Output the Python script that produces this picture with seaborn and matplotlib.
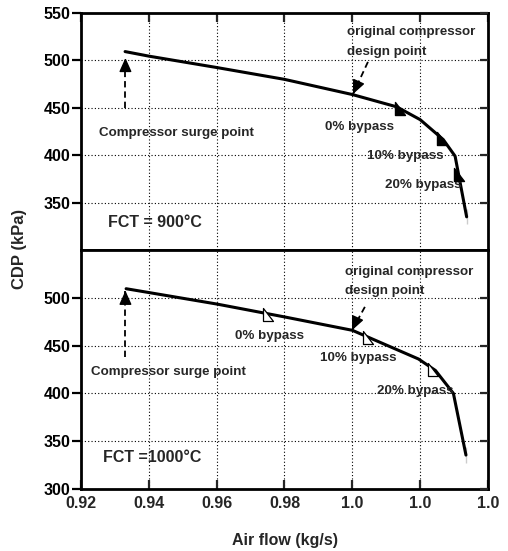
import numpy as np
import pandas as pd
import matplotlib
matplotlib.use("Agg")
import matplotlib.pyplot as plt
from matplotlib.path import Path
import seaborn as sns

sns.set_style("white")
plt.rcParams["font.family"] = ["Liberation Sans", "DejaVu Sans"]
plt.rcParams["font.weight"] = "bold"

# Operating line, FCT = 900 C
air_900 = [0.9330, 0.940, 0.960, 0.980, 1.000, 1.0131, 1.0200, 1.0268, 1.0303, 1.0337, 1.0337]
cdp_900 = [509.3, 504.5, 492.5, 480.0, 464.0, 451.0, 437.5, 416.5, 399.0, 343.0, 327.0]
# Bypass points on the 900 C line (0 %, 10 %, 20 %)
bypass_air_900 = [1.0141, 1.0264, 1.0315]
bypass_cdp_900 = [449.5, 418.0, 380.0]

# Operating line, FCT = 1000 C
air_1000 = [0.9333, 0.940, 0.960, 0.980, 1.000, 1.0195, 1.0245, 1.0298, 1.0335, 1.0335]
cdp_1000 = [509.5, 505.5, 493.5, 480.0, 466.0, 436.0, 424.0, 400.0, 344.0, 327.0]
bypass_air_1000 = [0.9751, 1.0046, 1.0238]
bypass_cdp_1000 = [483.3, 458.6, 425.7]

bypass_labels = ["0% bypass", "10% bypass", "20% bypass"]

x_ticks = [0.92, 0.94, 0.96, 0.98, 1.00, 1.02, 1.04]
x_tick_labels = ["0.92", "0.94", "0.96", "0.98", "1.0", "1.0", "1.0"]
y_ticks_top = [350, 400, 450, 500, 550]
y_ticks_bottom = [300, 350, 400, 450, 500]

W, H = 508, 551
fig = plt.figure(figsize=(W / 100, H / 100), dpi=100)
left, right = 81 / W, 488 / W
ax1 = fig.add_axes([left, 1 - 250 / H, right - left, (250 - 13) / H])
ax2 = fig.add_axes([left, 1 - 489 / H, right - left, (489 - 250) / H])

# right-angled triangle marker (vertical left edge, flat bottom)
tri = Path([(-0.74, 0.84), (-0.74, -1.0), (0.74, -1.0), (-0.74, 0.84)],
           [Path.MOVETO, Path.LINETO, Path.LINETO, Path.CLOSEPOLY])

FS_TICK = 11.5
FS_NOTE = 9.6


def arrow(ax, tail, tip, off, head_len=0.85, head_w=0.38):
    ax.plot([tail[0], tip[0]], [tail[1], tip[1]], color="black", lw=1.3,
            dashes=(3.5, 2.2), solid_capstyle="butt", zorder=3)
    ax.annotate("", xy=tip, xytext=off, textcoords="offset points",
                arrowprops=dict(arrowstyle=f"-|>,head_length={head_len},head_width={head_w}",
                                color="black", lw=1.0, shrinkA=0, shrinkB=0),
                zorder=4)


def style(ax, yticks, bottom_axis):
    ax.set_xlim(0.92, 1.04)
    ax.set_ylim(300, 550)
    ax.set_xticks(x_ticks)
    ax.set_yticks(yticks)
    ax.grid(True, color="black", linestyle=(0, (1, 2)), linewidth=0.8)
    for s in ax.spines.values():
        s.set_linewidth(2.0)
        s.set_color("black")
    ax.tick_params(axis="y", which="both", left=True, right=False, direction="out",
                   length=6.5, width=1.6, pad=1, labelsize=FS_TICK, colors="black")
    if bottom_axis:
        ax.tick_params(axis="x", bottom=True, top=False, direction="in",
                       length=6.5, width=1.6, pad=5, labelsize=FS_TICK)
        ax.set_xticklabels(x_tick_labels, fontweight="bold")
    else:
        ax.tick_params(axis="x", bottom=False, top=True, direction="in",
                       length=6.5, width=1.6, labelbottom=False)
    ax.set_yticklabels([str(v) for v in yticks], fontweight="bold")
    ax.set_xlabel("")
    ax.set_ylabel("")
    # inward ticks on the right edge
    axr = ax.twinx()
    axr.set_ylim(300, 550)
    axr.set_yticks(yticks)
    axr.tick_params(axis="y", direction="in", length=6, width=1.6, labelright=False)
    for s in axr.spines.values():
        s.set_visible(False)


df900 = pd.DataFrame({"air": air_900, "cdp": cdp_900})
df1000 = pd.DataFrame({"air": air_1000, "cdp": cdp_1000})

# ---------- upper panel: FCT = 900 C ----------
sns.lineplot(data=df900, x="air", y="cdp", sort=False, ax=ax1, color="black",
             lw=2.2, zorder=3)
sns.scatterplot(x=bypass_air_900, y=bypass_cdp_900, ax=ax1, marker=tri, s=95,
                color="black", edgecolor="black", linewidth=1, zorder=5)
style(ax1, y_ticks_top, False)

arrow(ax1, (0.9331, 450), (0.9331, 502.6), (0, -9))
arrow(ax1, (1.0046, 498.4), (1.0002, 464.5), (3.6, 8.0))
ax1.text(0.9253, 423.7, "Compressor surge point", fontsize=FS_NOTE,
         fontweight="bold", va="center", ha="left")
ax1.text(0.9984, 530.0, "original compressor", fontsize=FS_NOTE,
         fontweight="bold", va="center", ha="left")
ax1.text(0.9984, 509.0, "design point", fontsize=FS_NOTE,
         fontweight="bold", va="center", ha="left")
for (tx, ty), lab in zip([(0.9919, 430.0), (1.0043, 399.5), (1.0096, 369.0)], bypass_labels):
    ax1.text(tx, ty, lab, fontsize=FS_NOTE, fontweight="bold", va="center", ha="left")
ax1.text(0.9280, 329.0, "FCT = 900°C", fontsize=11.5, fontweight="bold",
         va="center", ha="left")

# ---------- lower panel: FCT = 1000 C ----------
sns.lineplot(data=df1000, x="air", y="cdp", sort=False, ax=ax2, color="black",
             lw=2.2, zorder=3)
sns.scatterplot(x=bypass_air_1000, y=bypass_cdp_1000, ax=ax2, marker=tri, s=95,
                color="white", edgecolor="black", linewidth=0.9, zorder=5)
style(ax2, y_ticks_bottom, True)

arrow(ax2, (0.9331, 437.9), (0.9331, 507.4), (0, -9))
arrow(ax2, (1.0037, 490.5), (0.9999, 466.0), (3.6, 8.0))
ax2.text(0.9230, 422.0, "Compressor surge point", fontsize=FS_NOTE,
         fontweight="bold", va="center", ha="left")
ax2.text(0.9978, 527.4, "original compressor", fontsize=FS_NOTE,
         fontweight="bold", va="center", ha="left")
ax2.text(0.9978, 507.4, "design point", fontsize=FS_NOTE,
         fontweight="bold", va="center", ha="left")
for (tx, ty), lab in zip([(0.9654, 460.0), (0.9905, 436.8), (1.0073, 403.0)], bypass_labels):
    ax2.text(tx, ty, lab, fontsize=FS_NOTE, fontweight="bold", va="center", ha="left")
ax2.text(0.9265, 332.6, "FCT =1000°C", fontsize=11.5, fontweight="bold",
         va="center", ha="left")

fig.text(284.5 / W, 1 - 540 / H, "Air flow (kg/s)", fontsize=11.5,
         fontweight="bold", ha="center", va="center")
fig.text(20 / W, 1 - 249 / H, "CDP (kPa)", fontsize=12, fontweight="bold",
         rotation=90, ha="center", va="center")

fig.savefig("out.png", dpi=100, facecolor="white")
